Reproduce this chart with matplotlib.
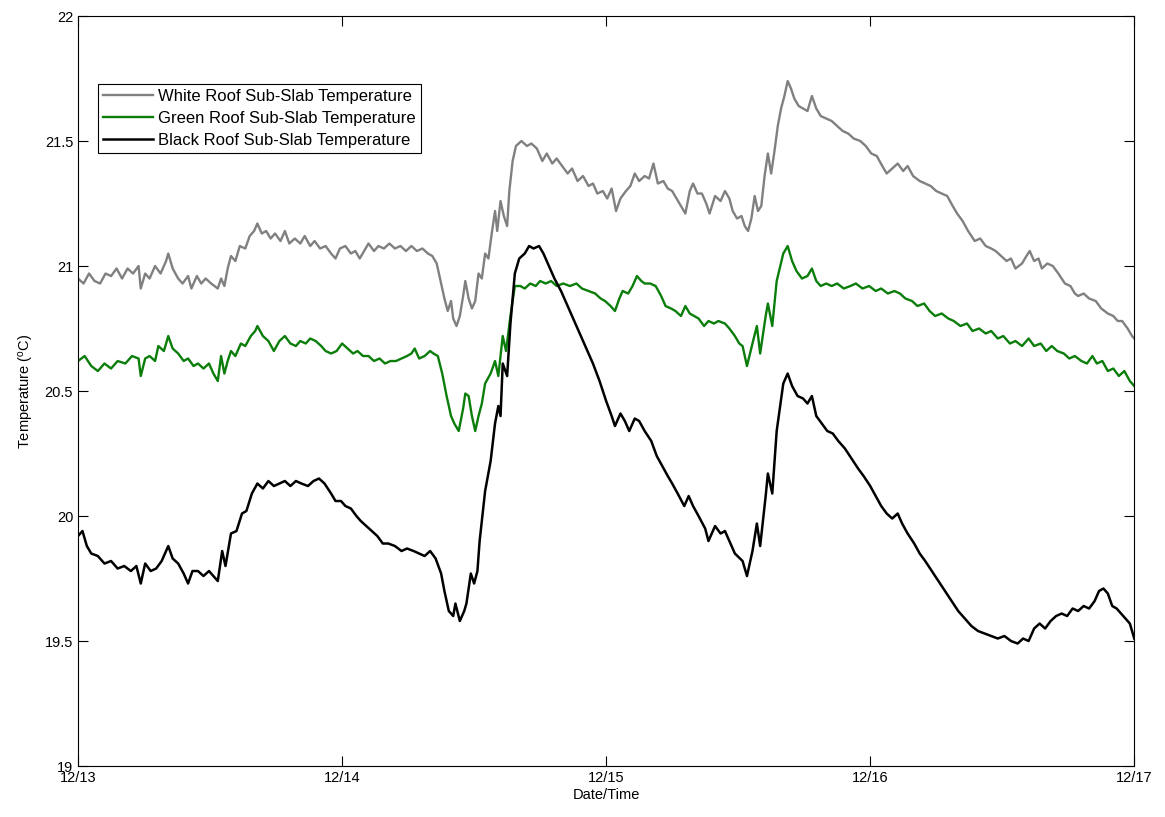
import matplotlib
matplotlib.use('Agg')
import matplotlib.pyplot as plt
import matplotlib.ticker as mtick
import numpy as np

plt.rcParams.update({
    'font.family': 'Liberation Sans',
    'font.size': 10.5,
    'mathtext.fontset': 'custom',
    'mathtext.rm': 'Liberation Sans',
    'mathtext.it': 'Liberation Sans',
})

# hours since 12/13 00:00, sub-slab temperatures in deg C
white_h = [0, 0.5, 1, 1.5, 2, 2.5, 3, 3.5, 4, 4.5, 5, 5.5, 5.7, 6.1, 6.5, 7, 7.5, 8, 8.2, 8.6,
           9.1, 9.5, 10, 10.3, 10.8, 11.2, 11.6, 12.1, 12.7, 13, 13.3, 13.6, 13.9, 14.3, 14.7, 15.2,
           15.6, 16, 16.3, 16.7, 17.1, 17.5, 17.9, 18.4, 18.8, 19.2, 19.7, 20.2, 20.6, 21.1, 21.5,
           22, 22.5, 23, 23.4, 23.8, 24.3, 24.8, 25.2, 25.6, 26, 26.4, 26.9, 27.3, 27.8, 28.3, 28.8,
           29.3, 29.8, 30.3, 30.8, 31.3, 31.8, 32.2, 32.6, 33, 33.3, 33.6, 33.9, 34.1, 34.4, 34.7,
           35, 35.2, 35.5, 35.8, 36.1, 36.4, 36.7, 37, 37.3, 37.6, 37.9, 38.1, 38.4, 38.7, 39, 39.2,
           39.5, 39.8, 40.3, 40.8, 41.2, 41.7, 42.2, 42.6, 43.1, 43.5, 44, 44.5, 44.9, 45.4, 45.9,
           46.4, 46.8, 47.2, 47.7, 48.1, 48.5, 48.9, 49.3, 49.8, 50.2, 50.6, 51, 51.5, 51.9, 52.3,
           52.7, 53.2, 53.6, 54, 54.4, 54.8, 55.2, 55.6, 55.9, 56.3, 56.7, 57.1, 57.4, 57.9, 58.4,
           58.8, 59.2, 59.5, 59.9, 60.3, 60.6, 60.9, 61.2, 61.5, 61.8, 62.1, 62.4, 62.7, 63, 63.3,
           63.6, 63.9, 64.2, 64.5, 64.8, 65.1, 65.5, 65.9, 66.3, 66.7, 67.1, 67.5, 68, 68.5, 69,
           69.5, 70, 70.5, 71.1, 71.6, 72.1, 72.6, 73.1, 73.5, 74, 74.5, 75, 75.4, 75.9, 76.5, 77,
           77.5, 78, 78.5, 79, 79.5, 79.9, 80.4, 80.9, 81.5, 82, 82.5, 83, 83.4, 83.9, 84.4, 84.8,
           85.2, 85.8, 86.2, 86.5, 86.9, 87.3, 87.6, 88.1, 88.6, 89.1, 89.7, 90.2, 90.6, 90.9, 91.4,
           91.9, 92.5, 93, 93.6, 94.1, 94.5, 94.9, 95.4, 95.8, 96]
white_t = [20.95, 20.93, 20.97, 20.94, 20.93, 20.97, 20.96, 20.99, 20.95, 20.99, 20.97, 21.00,
           20.91, 20.97, 20.95, 21.00, 20.97, 21.02, 21.05, 20.99, 20.95, 20.93, 20.96, 20.91, 20.96,
           20.93, 20.95, 20.93, 20.91, 20.95, 20.92, 20.99, 21.04, 21.02, 21.08, 21.07, 21.12, 21.14,
           21.17, 21.13, 21.14, 21.11, 21.13, 21.10, 21.14, 21.09, 21.11, 21.09, 21.12, 21.08, 21.10,
           21.07, 21.08, 21.05, 21.03, 21.07, 21.08, 21.05, 21.06, 21.03, 21.06, 21.09, 21.06, 21.08,
           21.07, 21.09, 21.07, 21.08, 21.06, 21.08, 21.06, 21.07, 21.05, 21.04, 21.01, 20.93, 20.87,
           20.82, 20.86, 20.79, 20.76, 20.80, 20.88, 20.94, 20.87, 20.83, 20.86, 20.97, 20.95, 21.05,
           21.03, 21.13, 21.22, 21.14, 21.26, 21.20, 21.16, 21.30, 21.42, 21.48, 21.50, 21.48, 21.49,
           21.47, 21.42, 21.45, 21.41, 21.43, 21.40, 21.37, 21.39, 21.34, 21.36, 21.32, 21.33, 21.29,
           21.30, 21.27, 21.31, 21.22, 21.27, 21.30, 21.32, 21.37, 21.34, 21.36, 21.35, 21.41, 21.33,
           21.34, 21.31, 21.30, 21.27, 21.24, 21.21, 21.30, 21.33, 21.29, 21.29, 21.25, 21.21, 21.28,
           21.26, 21.30, 21.27, 21.22, 21.19, 21.20, 21.16, 21.14, 21.19, 21.28, 21.22, 21.24, 21.36,
           21.45, 21.37, 21.46, 21.56, 21.63, 21.68, 21.74, 21.71, 21.67, 21.64, 21.63, 21.62, 21.68,
           21.63, 21.60, 21.59, 21.58, 21.56, 21.54, 21.53, 21.51, 21.50, 21.48, 21.45, 21.44, 21.40,
           21.37, 21.39, 21.41, 21.38, 21.40, 21.36, 21.34, 21.33, 21.32, 21.30, 21.29, 21.28, 21.24,
           21.21, 21.18, 21.14, 21.10, 21.11, 21.08, 21.07, 21.06, 21.04, 21.02, 21.03, 20.99, 21.01,
           21.04, 21.06, 21.02, 21.03, 20.99, 21.01, 21.00, 20.97, 20.93, 20.92, 20.89, 20.88, 20.89,
           20.87, 20.86, 20.83, 20.81, 20.80, 20.78, 20.78, 20.75, 20.72, 20.71]

green_h = [0, 0.6, 1.2, 1.8, 2.4, 3, 3.6, 4.3, 4.9, 5.5, 5.7, 6.1, 6.5, 7, 7.3, 7.8, 8.2, 8.6, 9.1,
           9.6, 10, 10.5, 10.9, 11.4, 11.9, 12.3, 12.7, 13, 13.3, 13.6, 13.9, 14.3, 14.8, 15.2, 15.7,
           16.1, 16.3, 16.8, 17.3, 17.8, 18.3, 18.8, 19.3, 19.8, 20.2, 20.7, 21.1, 21.6, 22.1, 22.5,
           23, 23.5, 24, 24.5, 25, 25.4, 25.9, 26.4, 26.9, 27.4, 27.9, 28.4, 28.9, 29.4, 29.9, 30.3,
           30.6, 31, 31.5, 32, 32.3, 32.7, 33.1, 33.5, 33.9, 34.2, 34.6, 35, 35.2, 35.5, 35.8, 36.1,
           36.4, 36.7, 37, 37.5, 37.9, 38.2, 38.6, 38.9, 39.3, 39.7, 40.2, 40.6, 41.1, 41.6, 42, 42.5,
           43, 43.5, 44.1, 44.7, 45.3, 45.8, 46.4, 47, 47.5, 47.9, 48.4, 48.8, 49.2, 49.5, 50, 50.4,
           50.8, 51.2, 51.5, 52, 52.5, 53, 53.4, 53.9, 54.3, 54.8, 55.2, 55.6, 56, 56.4, 56.9, 57.3,
           57.8, 58.2, 58.8, 59.2, 59.7, 60.1, 60.4, 60.8, 61.3, 61.7, 62, 62.5, 62.7, 63.1, 63.5,
           64.1, 64.5, 64.9, 65.3, 65.8, 66.3, 66.7, 67.1, 67.5, 68, 68.5, 69, 69.6, 70.2, 70.7, 71.3,
           71.9, 72.5, 73, 73.6, 74.2, 74.7, 75.2, 75.8, 76.3, 76.9, 77.4, 77.9, 78.5, 79.1, 79.6,
           80.2, 80.8, 81.3, 81.9, 82.5, 83, 83.6, 84.1, 84.7, 85.2, 85.8, 86.4, 86.9, 87.5, 88, 88.5,
           89, 89.6, 90.1, 90.6, 91.2, 91.7, 92.2, 92.6, 93.1, 93.6, 94.1, 94.6, 95.1, 95.6, 96]
green_t = [20.62, 20.64, 20.60, 20.58, 20.61, 20.59, 20.62, 20.61, 20.64, 20.63, 20.56, 20.63, 20.64,
           20.62, 20.68, 20.66, 20.72, 20.67, 20.65, 20.62, 20.63, 20.60, 20.61, 20.59, 20.61, 20.57,
           20.54, 20.64, 20.57, 20.62, 20.66, 20.64, 20.69, 20.68, 20.72, 20.74, 20.76, 20.72, 20.70,
           20.66, 20.70, 20.72, 20.69, 20.68, 20.70, 20.69, 20.71, 20.70, 20.68, 20.66, 20.65, 20.66,
           20.69, 20.67, 20.65, 20.66, 20.64, 20.64, 20.62, 20.63, 20.61, 20.62, 20.62, 20.63, 20.64,
           20.65, 20.67, 20.63, 20.64, 20.66, 20.65, 20.64, 20.57, 20.48, 20.40, 20.37, 20.34, 20.43,
           20.49, 20.48, 20.40, 20.34, 20.40, 20.45, 20.53, 20.57, 20.62, 20.56, 20.72, 20.66, 20.80,
           20.92, 20.92, 20.91, 20.93, 20.92, 20.94, 20.93, 20.94, 20.92, 20.93, 20.92, 20.93, 20.91,
           20.90, 20.89, 20.87, 20.86, 20.84, 20.82, 20.87, 20.90, 20.89, 20.92, 20.96, 20.94, 20.93,
           20.93, 20.92, 20.88, 20.84, 20.83, 20.82, 20.80, 20.84, 20.81, 20.80, 20.79, 20.76, 20.78,
           20.77, 20.78, 20.77, 20.75, 20.72, 20.69, 20.68, 20.60, 20.69, 20.76, 20.65, 20.80, 20.85,
           20.76, 20.94, 21.05, 21.08, 21.02, 20.98, 20.95, 20.96, 20.99, 20.94, 20.92, 20.93, 20.92,
           20.93, 20.91, 20.92, 20.93, 20.91, 20.92, 20.90, 20.91, 20.89, 20.90, 20.89, 20.87, 20.86,
           20.84, 20.85, 20.82, 20.80, 20.81, 20.79, 20.78, 20.76, 20.77, 20.74, 20.75, 20.73, 20.74,
           20.71, 20.72, 20.69, 20.70, 20.68, 20.71, 20.68, 20.69, 20.66, 20.68, 20.66, 20.65, 20.63,
           20.64, 20.62, 20.61, 20.64, 20.61, 20.62, 20.58, 20.59, 20.56, 20.58, 20.54, 20.52]

black_h = [0, 0.4, 0.8, 1.2, 1.8, 2.4, 3, 3.6, 4.2, 4.8, 5.3, 5.7, 6.1, 6.6, 7.1, 7.6, 8.2, 8.6, 9.1,
           9.6, 10, 10.4, 10.9, 11.4, 11.9, 12.3, 12.7, 13.1, 13.4, 13.9, 14.4, 14.9, 15.3, 15.8,
           16.3, 16.8, 17.3, 17.8, 18.3, 18.8, 19.3, 19.8, 20.3, 20.9, 21.4, 21.9, 22.4, 23, 23.4,
           23.9, 24.3, 24.8, 25.3, 25.7, 26.2, 26.7, 27.2, 27.7, 28.2, 28.8, 29.4, 29.9, 30.5, 31,
           31.5, 32, 32.5, 33, 33.3, 33.7, 34.1, 34.3, 34.7, 35.1, 35.3, 35.7, 36, 36.3, 36.5, 37,
           37.5, 37.9, 38.2, 38.4, 38.6, 39, 39.3, 39.7, 40.1, 40.6, 41, 41.4, 41.9, 42.3, 42.8, 43.3,
           43.9, 44.5, 45.1, 45.7, 46.2, 46.8, 47.4, 48, 48.5, 48.8, 49.3, 49.7, 50.1, 50.6, 51, 51.5,
           52.1, 52.6, 53.1, 53.6, 54, 54.5, 55.1, 55.5, 55.9, 56.4, 57, 57.3, 57.9, 58.4, 58.8, 59.2,
           59.7, 60.4, 60.8, 61.3, 61.7, 62, 62.5, 62.7, 63.1, 63.5, 64.1, 64.5, 64.9, 65.4, 65.9,
           66.3, 66.7, 67.1, 67.6, 68.1, 68.6, 69.1, 69.7, 70.3, 70.9, 71.4, 72, 72.5, 73, 73.5, 74,
           74.5, 74.9, 75.4, 76, 76.5, 77, 77.6, 78.2, 78.8, 79.4, 80, 80.6, 81.2, 81.8, 82.4, 83,
           83.6, 84.2, 84.8, 85.4, 85.9, 86.4, 86.9, 87.4, 87.9, 88.4, 88.9, 89.4, 89.9, 90.4, 90.9,
           91.4, 91.9, 92.4, 92.8, 93.2, 93.6, 94, 94.4, 94.8, 95.2, 95.6, 96]
black_t = [19.92, 19.94, 19.88, 19.85, 19.84, 19.81, 19.82, 19.79, 19.80, 19.78, 19.80, 19.73, 19.81,
           19.78, 19.79, 19.82, 19.88, 19.83, 19.81, 19.77, 19.73, 19.78, 19.78, 19.76, 19.78, 19.76,
           19.74, 19.86, 19.80, 19.93, 19.94, 20.01, 20.02, 20.09, 20.13, 20.11, 20.14, 20.12, 20.13,
           20.14, 20.12, 20.14, 20.13, 20.12, 20.14, 20.15, 20.13, 20.09, 20.06, 20.06, 20.04, 20.03,
           20.00, 19.98, 19.96, 19.94, 19.92, 19.89, 19.89, 19.88, 19.86, 19.87, 19.86, 19.85, 19.84,
           19.86, 19.83, 19.77, 19.70, 19.62, 19.60, 19.65, 19.58, 19.62, 19.65, 19.77, 19.73, 19.78,
           19.90, 20.10, 20.22, 20.37, 20.44, 20.40, 20.61, 20.56, 20.77, 20.97, 21.03, 21.05, 21.08,
           21.07, 21.08, 21.05, 21.00, 20.95, 20.90, 20.84, 20.78, 20.72, 20.67, 20.61, 20.54, 20.46,
           20.40, 20.36, 20.41, 20.38, 20.34, 20.39, 20.38, 20.34, 20.30, 20.24, 20.20, 20.16, 20.13,
           20.09, 20.04, 20.08, 20.04, 20.00, 19.95, 19.90, 19.96, 19.93, 19.94, 19.90, 19.85, 19.82,
           19.76, 19.86, 19.97, 19.88, 20.08, 20.17, 20.09, 20.34, 20.53, 20.57, 20.52, 20.48, 20.47,
           20.45, 20.48, 20.40, 20.37, 20.34, 20.33, 20.30, 20.27, 20.23, 20.19, 20.16, 20.12, 20.08,
           20.04, 20.01, 19.99, 20.01, 19.97, 19.93, 19.89, 19.85, 19.82, 19.78, 19.74, 19.70, 19.66,
           19.62, 19.59, 19.56, 19.54, 19.53, 19.52, 19.51, 19.52, 19.50, 19.49, 19.51, 19.50, 19.55,
           19.57, 19.55, 19.58, 19.60, 19.61, 19.60, 19.63, 19.62, 19.64, 19.63, 19.66, 19.70, 19.71,
           19.69, 19.64, 19.63, 19.61, 19.59, 19.57, 19.51]

day_ticks = [0, 24, 48, 72, 96]
day_labels = ['12/13', '12/14', '12/15', '12/16', '12/17']

fig = plt.figure(figsize=(11.65, 8.17), dpi=100)
ax = fig.add_axes([0.067, 0.0624, 0.9066, 0.918])

ax.plot(white_h, white_t, color='#808080', lw=1.7, label='White Roof Sub-Slab Temperature')
ax.plot(green_h, green_t, color='#0b7d0b', lw=1.7, label='Green Roof Sub-Slab Temperature')
ax.plot(black_h, black_t, color='black', lw=1.8, label='Black Roof Sub-Slab Temperature')

ax.set_xlim(0, 96)
ax.set_ylim(19, 22)
ax.set_xticks(day_ticks)
ax.set_xticklabels(day_labels)
ax.set_yticks(np.arange(19, 22.01, 0.5))
ax.yaxis.set_major_formatter(mtick.FormatStrFormatter('%g'))
ax.tick_params(direction='in', length=7, width=0.8, top=True, right=True, labelsize=10.5)
for s in ax.spines.values():
    s.set_linewidth(0.8)

ax.set_xlabel('Date/Time', fontsize=10.5, labelpad=2)
ax.set_ylabel('Temperature ($^{o}$C)', fontsize=10.5, labelpad=6)

leg = ax.legend(loc='upper left', bbox_to_anchor=(0.019, 0.909), borderaxespad=0,
                fancybox=False, edgecolor='black', framealpha=1, fontsize=12,
                handlelength=3.0, handletextpad=0.3, labelspacing=0.42, borderpad=0.3)
leg.get_frame().set_linewidth(0.8)

fig.savefig('out.png', dpi=100)
